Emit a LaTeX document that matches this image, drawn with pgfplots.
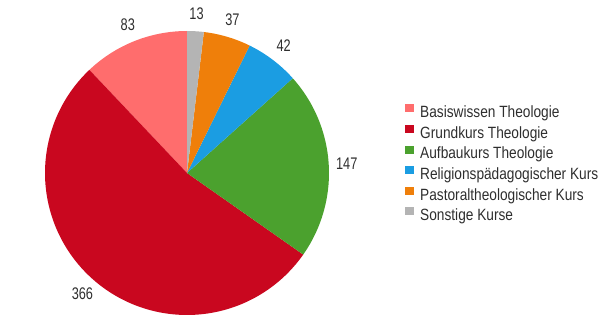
\documentclass[border=0pt]{standalone}
\usepackage{pgfplots}
\pgfplotsset{compat=1.18}
\usepackage{fontspec}
\setmainfont{Liberation Sans}
\newfontfamily\legfont[FakeStretch=0.84]{Liberation Sans}
\newfontfamily\numfont[FakeStretch=0.76]{Liberation Sans}
\definecolor{cA}{HTML}{FF6D6D}
\definecolor{cB}{HTML}{C9071F}
\definecolor{cC}{HTML}{4BA12E}
\definecolor{cD}{HTML}{1B9DE2}
\definecolor{cE}{HTML}{EF7F0A}
\definecolor{cF}{HTML}{B4B4B4}
\definecolor{txt}{HTML}{2E2E2E}
% data
\def\vA{83}\def\vB{366}\def\vC{147}\def\vD{42}\def\vE{37}\def\vF{13}
\def\tot{688}
\pgfmathsetmacro\aA{90}
\pgfmathsetmacro\aB{\aA+\vA/\tot*360}
\pgfmathsetmacro\aC{\aB+\vB/\tot*360}
\pgfmathsetmacro\aD{\aC+\vC/\tot*360}
\pgfmathsetmacro\aE{\aD+\vD/\tot*360}
\pgfmathsetmacro\aF{\aE+\vE/\tot*360}
\pgfmathsetmacro\aG{\aF+\vF/\tot*360}
\def\cx{187}\def\cy{154}\def\R{142}\def\L{160}
\pgfmathsetmacro\lAx{\cx+\L*cos((\aA+\aB)/2)}\pgfmathsetmacro\lAy{\cy+\L*sin((\aA+\aB)/2)}
\pgfmathsetmacro\lBx{\cx+\L*cos((\aB+\aC)/2)}\pgfmathsetmacro\lBy{\cy+\L*sin((\aB+\aC)/2)}
\pgfmathsetmacro\lCx{\cx+\L*cos((\aC+\aD)/2)}\pgfmathsetmacro\lCy{\cy+\L*sin((\aC+\aD)/2)}
\pgfmathsetmacro\lDx{\cx+\L*cos((\aD+\aE)/2)}\pgfmathsetmacro\lDy{\cy+\L*sin((\aD+\aE)/2)}
\pgfmathsetmacro\lEx{\cx+\L*cos((\aE+\aF)/2)}\pgfmathsetmacro\lEy{\cy+\L*sin((\aE+\aF)/2)}
\pgfmathsetmacro\lFx{\cx+\L*cos((\aF+\aG)/2)}\pgfmathsetmacro\lFy{\cy+\L*sin((\aF+\aG)/2)}
\begin{document}%
\begin{tikzpicture}
\useasboundingbox (0,0) rectangle (614pt,327pt);
\begin{axis}[
  x=1pt, y=1pt, xmin=0, xmax=614, ymin=0, ymax=327,
  hide axis, clip=false,
  legend cell align=left,
  legend image code/.code={\fill[#1] (0pt,1pt) rectangle (9.5pt,9pt); \path (15.5pt,0pt);},
  legend style={at={(axis cs:404.5,223)}, anchor=north west, draw=none, fill=none,
    inner sep=0pt, row sep=3.9pt, column sep=0pt, text=txt,
    font=\legfont\fontsize{16.3}{18}\selectfont,
    nodes={inner sep=0pt, text height=12pt, text depth=3.5pt}},
]
\addplot[fill=cA, draw=none, domain=\aA:\aB, samples=40, variable=\t] ({\cx+\R*cos(\t)},{\cy+\R*sin(\t)}) -- (axis cs:\cx,\cy) -- cycle;
\addlegendentry{Basiswissen Theologie}
\addplot[fill=cB, draw=none, domain=\aB:\aC, samples=120, variable=\t] ({\cx+\R*cos(\t)},{\cy+\R*sin(\t)}) -- (axis cs:\cx,\cy) -- cycle;
\addlegendentry{Grundkurs Theologie}
\addplot[fill=cC, draw=none, domain=\aC:\aD, samples=60, variable=\t] ({\cx+\R*cos(\t)},{\cy+\R*sin(\t)}) -- (axis cs:\cx,\cy) -- cycle;
\addlegendentry{Aufbaukurs Theologie}
\addplot[fill=cD, draw=none, domain=\aD:\aE, samples=30, variable=\t] ({\cx+\R*cos(\t)},{\cy+\R*sin(\t)}) -- (axis cs:\cx,\cy) -- cycle;
\addlegendentry{Religionspädagogischer Kurs}
\addplot[fill=cE, draw=none, domain=\aE:\aF, samples=30, variable=\t] ({\cx+\R*cos(\t)},{\cy+\R*sin(\t)}) -- (axis cs:\cx,\cy) -- cycle;
\addlegendentry{Pastoraltheologischer Kurs}
\addplot[fill=cF, draw=none, domain=\aF:\aG, samples=15, variable=\t] ({\cx+\R*cos(\t)},{\cy+\R*sin(\t)}) -- (axis cs:\cx,\cy) -- cycle;
\addlegendentry{Sonstige Kurse}
\begin{scope}[every node/.style={text=txt, font=\numfont\fontsize{16.8}{18}\selectfont, inner sep=0pt}]
\node at (axis cs:\lAx,\lAy) {\vA};
\node at (axis cs:\lBx,\lBy) {\vB};
\node at (axis cs:\lCx,\lCy) {\vC};
\node at (axis cs:\lDx,\lDy) {\vD};
\node at (axis cs:\lEx,\lEy) {\vE};
\node at (axis cs:\lFx,\lFy) {\vF};
\end{scope}
\end{axis}
\end{tikzpicture}%
\end{document}
